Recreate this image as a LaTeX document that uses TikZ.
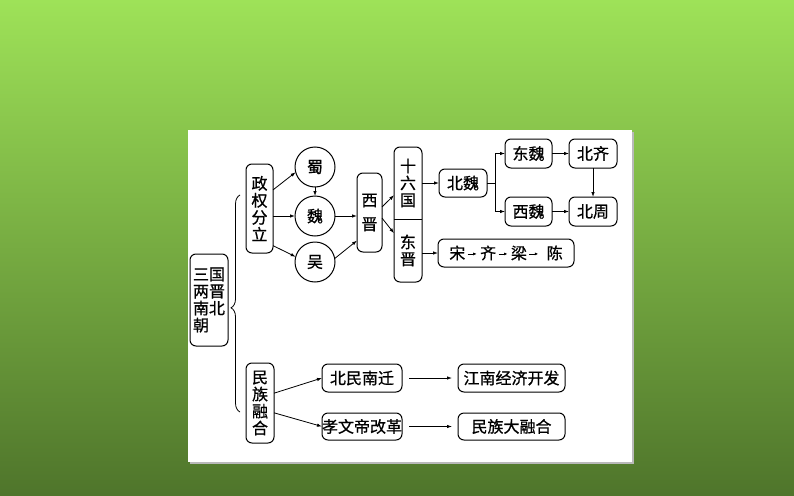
\documentclass[tikz,border=0pt]{standalone}
\usepackage{fontspec}
\newfontfamily\cjk[FakeBold=0.8]{Noto Sans CJK SC}
\usetikzlibrary{positioning,arrows.meta,decorations.pathreplacing}
\definecolor{bgtop}{HTML}{9EE258}
\definecolor{bgmid}{HTML}{84BD47}
\definecolor{bgbot}{HTML}{4F752B}
\newcommand{\sarr}{\hspace{2pt}\tikz[baseline=-0.6ex]\draw[-{Latex[length=3.5pt,width=3pt]}, line width=0.8pt] (0,0) -- (9pt,0);\hspace{3pt}}

\begin{document}
\begin{tikzpicture}[x=1pt, y=-1pt, font=\cjk\fontsize{16}{17}\selectfont, >={Latex[length=5pt,width=3.5pt]},
		bx/.style={draw, rounded corners=6pt, line width=1pt, inner sep=0pt, outer sep=0pt, minimum height=28pt, align=center},
		vb/.style={bx, minimum width=27pt},
		c/.style={circle, draw, line width=1pt, minimum size=40pt, inner sep=0pt, outer sep=0pt},
		t/.style={inner sep=0pt, outer sep=0pt, minimum width=28pt, align=center},
		ar/.style={->, line width=0.8pt}]
		\shade[top color=bgtop, middle color=bgmid, bottom color=bgbot] (0,0) rectangle (794,495);
		\useasboundingbox (0,0) rectangle (794,495);
		\fill[gray!55] (190,132) rectangle (634,464);
		\fill[white] (188,130) rectangle (632,462);

		\node[bx, minimum width=38pt, minimum height=92pt, align=left] (sg) at (209,300) {三国\\两晋\\南北\\朝};
		\node[vb, minimum height=89pt] (zq) at (259.5,208.5) {政\\权\\分\\立};
		\node[vb, minimum width=28pt, minimum height=80pt] (mz) at (260,403) {民\\族\\融\\合};

		\node[c] (shu) at (315,167) {蜀};
		\node[c, below=9pt of shu] (wei) {魏};
		\node[c, below=6pt of wei] (wu) {吴};
		\node[bx, minimum width=25pt, minimum height=79pt] (xj) at (369.5,212.5) {西\\[7pt]晋};

		\node[t, minimum height=72pt] (sl) at (408,183) {十\\六\\国};
		\node[t, minimum height=63pt, below=0pt of sl] (dj) {东\\晋};
		\draw[line width=1pt, rounded corners=6pt] (sl.north west) rectangle (dj.south east);
		\draw[line width=1pt] (sl.south west) -- (sl.south east);

		\node[bx, minimum width=48pt, right=17pt of sl] (bw) {北魏};
		\node[bx, minimum width=47pt, minimum height=29pt] (dw) at (528.5,153.5) {东魏};
		\node[bx, minimum width=47pt, minimum height=29pt, below=29pt of dw] (xw) {西魏};
		\node[bx, minimum width=48pt, minimum height=29pt, right=17pt of dw] (bq) {北齐};
		\node[bx, minimum width=48pt, minimum height=29pt, right=17pt of xw] (bz) {北周};
		\node[bx, minimum width=136pt] (sq) at (506,253) {宋\sarr{}齐\sarr{}梁\sarr{}\hspace{5pt}陈};

		\node[bx, minimum width=80pt] (bm) at (362,378) {北民南迁};
		\node[bx, minimum width=107pt, right=56pt of bm] (jn) {江南经济开发};
		\node[bx, minimum width=80pt, minimum height=27pt, below=21pt of bm] (xg) {孝文帝改革};
		\node[bx, minimum width=107pt, minimum height=27pt, right=56pt of xg] (rh) {民族大融合};

		% brace
		\coordinate (bb) at (240,412);
		\coordinate (bt) at (240,195);
		\draw[line width=0.8pt, decorate, decoration={brace, amplitude=9pt, aspect=0.48}] (bb) -- (bt);

		\path[ar] (zq.54) edge (shu.195)
			(zq.east |- wei.west) edge (wei.west)
			(zq.-70) edge (wu.165)
			(shu.south) edge (wei.north)
			(wei.east) edge (wei.east -| xj.west)
			(wu.10) edge (xj.-114)
			(xj.24) edge (sl.-139)
			(xj.-24) edge (dj.129)
			(sl.east) edge (bw.west)
			(dj.east |- sq.west) edge (sq.west)
			(dw) edge (bq)
			(xw) edge (bz)
			(bq) edge (bz)
			(mz.35) edge (bm.west)
			(mz.-35) edge (xg.west);
		\path[ar, shorten <=7pt, shorten >=6pt] (bm) edge (jn) (xg) edge (rh);
		\draw[ar] (bw.east) -- ++(8,0) |- (dw.west);
		\draw[ar] (bw.east) -- ++(8,0) |- (xw.west);
	\end{tikzpicture}
\end{document}
